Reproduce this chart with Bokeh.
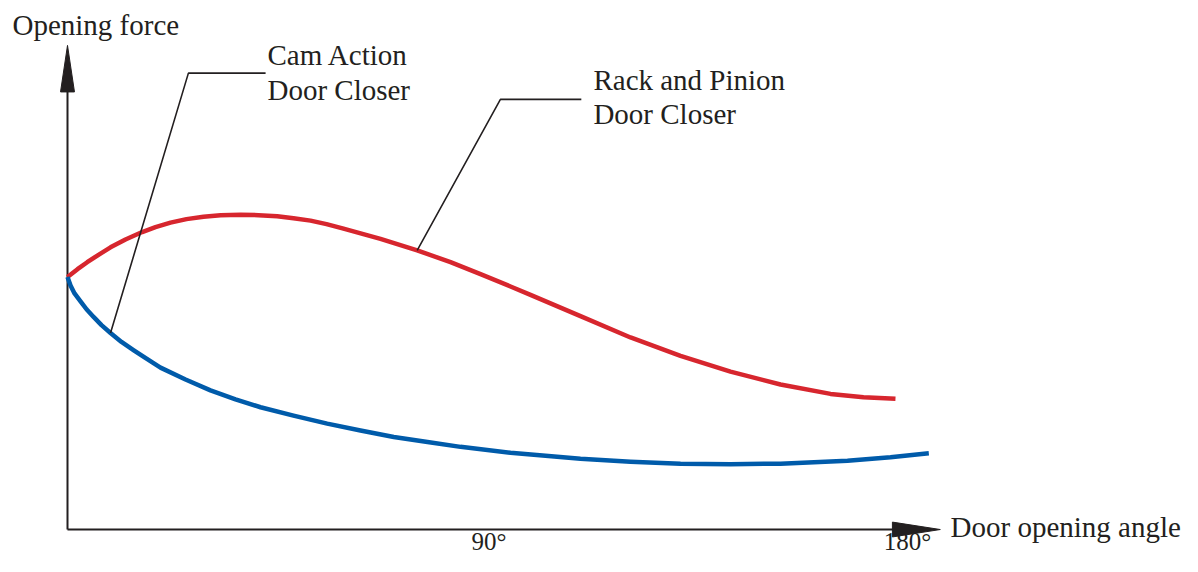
from bokeh.plotting import figure
from bokeh.models import Range1d
from bokeh.core.properties import value
from bokeh.embed import file_html
from bokeh.resources import INLINE

# ---- data ----
# Door opening angle (degrees) and relative opening force
rack_angle = [0.0, 2.15, 4.24, 6.67, 9.25, 12.47, 16.06, 18.92, 22.15, 25.59, 29.25, 32.90,
              37.20, 41.08, 45.10, 48.60, 52.26, 55.70, 59.35, 67.31, 75.20, 82.37, 88.82,
              95.27, 99.57, 110.32, 121.08, 131.83, 142.58, 153.33, 164.09, 171.18, 178.06]
rack_force = [5.10, 5.26, 5.40, 5.55, 5.70, 5.86, 6.01, 6.11, 6.20, 6.27, 6.32, 6.35,
              6.36, 6.35, 6.33, 6.29, 6.24, 6.17, 6.08, 5.87, 5.64, 5.40, 5.16,
              4.91, 4.74, 4.31, 3.88, 3.51, 3.19, 2.93, 2.74, 2.67, 2.64]

cam_angle = [0.0, 0.65, 1.51, 2.80, 4.09, 5.66, 7.31, 9.25, 11.61, 14.26, 16.99, 20.00,
             25.38, 30.75, 36.13, 41.51, 48.60, 55.85, 63.01, 70.17, 77.42, 84.52,
             95.27, 102.80, 110.32, 121.08, 131.83, 142.58, 153.33, 167.74, 176.99, 185.23]
cam_force = [5.10, 4.93, 4.77, 4.61, 4.45, 4.29, 4.13, 3.97, 3.79, 3.62, 3.45, 3.27,
             3.03, 2.81, 2.63, 2.47, 2.30, 2.14, 2.00, 1.87, 1.77, 1.67,
             1.55, 1.49, 1.43, 1.37, 1.33, 1.32, 1.33, 1.39, 1.46, 1.54]

tick_angles = [90, 180]
tick_labels = ["90°", "180°"]

x_title = "Door opening angle"
y_title = "Opening force"
cam_label = ["Cam Action", "Door Closer"]
rack_label = ["Rack and Pinion", "Door Closer"]

# ---- styling / layout ----
FONT = value("Liberation Serif")
INK = "#231f20"
RED = "#d7262e"
BLUE = "#005baa"

p = figure(width=1182, height=556, output_backend="svg", toolbar_location=None,
           x_axis_type=None, y_axis_type=None,
           x_range=Range1d(-14.409, 239.785), y_range=Range1d(-0.545, 10.687),
           min_border_left=0, min_border_right=0, min_border_top=0, min_border_bottom=0)
p.outline_line_color = None
p.background_fill_color = "white"
p.border_fill_color = "white"

# axes with arrow heads
p.line([0, 0], [0, 8.9], line_color=INK, line_width=2)
p.line([0, 178], [0, 0], line_color=INK, line_width=2)
p.patch([-1.5, 0, 1.5], [8.84, 9.78, 8.84], fill_color=INK, line_color=INK, line_width=1)
p.patch([177.4, 187.7, 177.4], [0.15, 0, -0.15], fill_color=INK, line_color=INK, line_width=1)

# curves
p.line(rack_angle, rack_force, line_color=RED, line_width=4.5, line_join="round", line_cap="butt")
p.line(cam_angle, cam_force, line_color=BLUE, line_width=4.5, line_join="round", line_cap="butt")

# leader lines (end on a curve point)
cam_i = 7
rack_i = 20
p.line([42.6, 26.0, cam_angle[cam_i]], [9.22, 9.22, cam_force[cam_i]], line_color=INK, line_width=1.6)
p.line([110.5, 93.1, rack_angle[rack_i]], [8.69, 8.69, rack_force[rack_i]], line_color=INK, line_width=1.6)

# texts
tk = dict(text_font=FONT, text_color=INK, text_baseline="alphabetic", y_offset=-9)
p.text(x=[-11.83], y=[10.02], text=[y_title], text_font_size="29px", text_align="left", **tk)
p.text(x=[189.9], y=[-0.14], text=[x_title], text_font_size="29px", text_align="left", **tk)
p.text(x=[43.0, 43.0], y=[9.40, 8.70], text=cam_label, text_font_size="29px", text_align="left", **tk)
p.text(x=[113.1, 113.1], y=[8.90, 8.22], text=rack_label, text_font_size="29px", text_align="left", **tk)
p.text(x=tick_angles, y=[-0.42] * len(tick_angles), text=tick_labels, text_font_size="25px",
       text_align="center", x_offset=3, **tk)

open("out.html", "w").write(file_html(p, INLINE))
